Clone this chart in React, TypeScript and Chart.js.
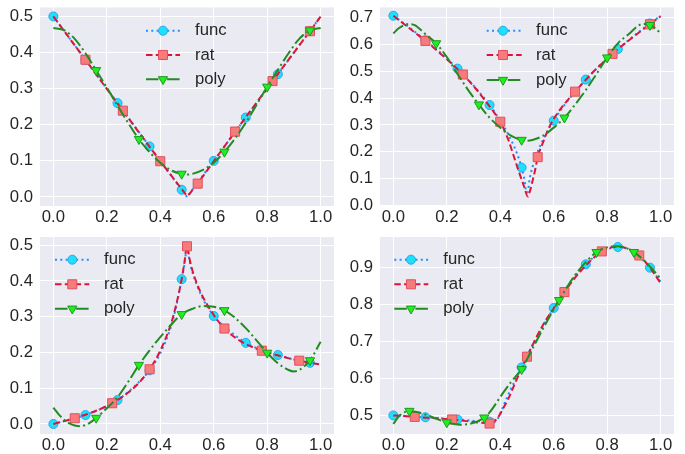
import React, { useEffect, useRef } from 'react';
import { Chart, registerables } from 'chart.js';

Chart.register(...registerables);

const FONT = '"Liberation Sans", Arial, "DejaVu Sans", sans-serif';
const FONT_SIZE = 16.7;
const TEXT = '#262626';
const PANEL_BG = '#EAEAF2';

const seriesNames = ['func', 'rat', 'poly'];
const xTicks = [0, 0.2, 0.4, 0.6, 0.8, 1.0];
const xMin = -0.05;
const xMax = 1.05;

// ---------- Panel A (top-left) ----------
const yTicksA = [0, 0.1, 0.2, 0.3, 0.4, 0.5];
const aFuncLineX = [0, 0.5, 1];
const aFuncLineY = [0.5, 0.0, 0.5];
const aFuncMarkX = [0, 0.12, 0.24, 0.36, 0.48, 0.6, 0.72, 0.84, 0.96];
const aFuncMarkY = [0.5, 0.38, 0.26, 0.14, 0.02, 0.1, 0.22, 0.34, 0.46];
const aRatLineX = [0, 0.12, 0.26, 0.4, 0.46, 0.48, 0.49, 0.5, 0.51, 0.52, 0.54, 0.6, 0.68, 0.82, 0.96, 1];
const aRatLineY = [0.5, 0.38, 0.239, 0.099, 0.041, 0.022, 0.012, 0.003, 0.009, 0.019, 0.037, 0.099, 0.181, 0.321, 0.459, 0.5];
const aRatMarkX = [0.12, 0.26, 0.4, 0.54, 0.68, 0.82, 0.96];
const aRatMarkY = [0.38, 0.239, 0.099, 0.037, 0.181, 0.321, 0.459];
const aPolyLineX = [0, 0.04, 0.08, 0.12, 0.16, 0.2, 0.24, 0.28, 0.32, 0.36, 0.4, 0.44, 0.48, 0.5, 0.52, 0.56, 0.6, 0.64, 0.68, 0.72, 0.76, 0.8, 0.84, 0.88, 0.92, 0.96, 1];
const aPolyLineY = [0.468, 0.462, 0.438, 0.398, 0.351, 0.303, 0.253, 0.205, 0.16, 0.124, 0.095, 0.074, 0.064, 0.062, 0.064, 0.075, 0.095, 0.125, 0.162, 0.206, 0.255, 0.305, 0.352, 0.398, 0.438, 0.461, 0.468];
const aPolyMarkX = [0.16, 0.32, 0.48, 0.64, 0.8, 0.96];
const aPolyMarkY = [0.351, 0.16, 0.064, 0.125, 0.305, 0.461];

// ---------- Panel B (top-right) ----------
const yTicksB = [0, 0.1, 0.2, 0.3, 0.4, 0.5, 0.6, 0.7];
const bFuncLineX = [0, 0.06, 0.12, 0.18, 0.24, 0.3, 0.36, 0.4, 0.44, 0.47, 0.49, 0.4975, 0.5025, 0.51, 0.53, 0.56, 0.6, 0.64, 0.7, 0.76, 0.82, 0.88, 0.94, 1];
const bFuncLineY = [0.707, 0.663, 0.616, 0.566, 0.51, 0.447, 0.374, 0.316, 0.245, 0.173, 0.1, 0.05, 0.05, 0.1, 0.173, 0.245, 0.316, 0.374, 0.447, 0.51, 0.566, 0.616, 0.663, 0.707];
const bFuncMarkX = [0, 0.12, 0.24, 0.36, 0.48, 0.6, 0.72, 0.84, 0.96];
const bFuncMarkY = [0.707, 0.616, 0.51, 0.374, 0.141, 0.316, 0.469, 0.583, 0.678];
const bRatLineX = [0, 0.06, 0.12, 0.2, 0.26, 0.3, 0.34, 0.37, 0.4, 0.43, 0.45, 0.47, 0.49, 0.503, 0.51, 0.52, 0.53, 0.54, 0.56, 0.58, 0.6, 0.64, 0.68, 0.75, 0.82, 0.9, 0.96, 1];
const bRatLineY = [0.707, 0.66, 0.613, 0.545, 0.488, 0.445, 0.395, 0.356, 0.312, 0.245, 0.185, 0.125, 0.068, 0.033, 0.05, 0.088, 0.13, 0.18, 0.235, 0.285, 0.322, 0.378, 0.424, 0.5, 0.565, 0.63, 0.675, 0.705];
const bRatMarkX = [0.12, 0.26, 0.4, 0.54, 0.68, 0.82, 0.96];
const bRatMarkY = [0.613, 0.488, 0.312, 0.18, 0.424, 0.565, 0.675];
const bPolyLineX = [0, 0.02, 0.04, 0.06, 0.08, 0.12, 0.16, 0.2, 0.24, 0.28, 0.32, 0.36, 0.4, 0.44, 0.48, 0.5, 0.52, 0.56, 0.6, 0.64, 0.68, 0.72, 0.76, 0.8, 0.84, 0.88, 0.92, 0.94, 0.96, 0.98, 1];
const bPolyLineY = [0.641, 0.66, 0.672, 0.676, 0.672, 0.638, 0.604, 0.553, 0.49, 0.43, 0.376, 0.327, 0.29, 0.26, 0.244, 0.241, 0.244, 0.26, 0.29, 0.327, 0.376, 0.43, 0.49, 0.551, 0.604, 0.638, 0.672, 0.676, 0.672, 0.66, 0.641];
const bPolyMarkX = [0.16, 0.32, 0.48, 0.64, 0.8, 0.96];
const bPolyMarkY = [0.604, 0.376, 0.244, 0.327, 0.551, 0.672];

// ---------- Panel C (bottom-left) ----------
const yTicksC = [0, 0.1, 0.2, 0.3, 0.4, 0.5];
const cFuncLineX = [0, 0.06, 0.12, 0.18, 0.24, 0.3, 0.36, 0.4, 0.44, 0.46, 0.48, 0.49, 0.5, 0.51, 0.52, 0.55, 0.6, 0.66, 0.72, 0.78, 0.84, 0.9, 0.96, 1];
const cFuncLineY = [0, 0.012, 0.025, 0.043, 0.067, 0.103, 0.15, 0.198, 0.272, 0.33, 0.405, 0.445, 0.49, 0.455, 0.425, 0.365, 0.302, 0.26, 0.227, 0.207, 0.193, 0.18, 0.171, 0.166];
const cFuncMarkX = [0, 0.12, 0.24, 0.36, 0.48, 0.6, 0.72, 0.84, 0.96];
const cFuncMarkY = [0, 0.025, 0.067, 0.15, 0.405, 0.302, 0.227, 0.193, 0.171];
const cRatLineX = [0, 0.04, 0.08, 0.12, 0.16, 0.22, 0.28, 0.32, 0.36, 0.4, 0.44, 0.46, 0.48, 0.49, 0.5, 0.51, 0.52, 0.55, 0.6, 0.64, 0.7, 0.78, 0.85, 0.92, 1];
const cRatLineY = [0, 0.008, 0.016, 0.026, 0.037, 0.058, 0.088, 0.115, 0.153, 0.205, 0.28, 0.335, 0.405, 0.45, 0.497, 0.46, 0.43, 0.37, 0.305, 0.267, 0.232, 0.205, 0.19, 0.177, 0.166];
const cRatMarkX = [0.08, 0.22, 0.36, 0.5, 0.64, 0.78, 0.92];
const cRatMarkY = [0.016, 0.058, 0.153, 0.497, 0.267, 0.205, 0.177];
const cPolyLineX = [0, 0.02, 0.04, 0.06, 0.08, 0.1, 0.12, 0.14, 0.16, 0.2, 0.24, 0.28, 0.32, 0.36, 0.4, 0.44, 0.48, 0.52, 0.56, 0.6, 0.64, 0.68, 0.72, 0.76, 0.8, 0.84, 0.88, 0.9, 0.92, 0.96, 1];
const cPolyLineY = [0.046, 0.027, 0.012, 0.002, -0.004, -0.006, -0.003, 0.005, 0.017, 0.044, 0.075, 0.118, 0.165, 0.206, 0.243, 0.277, 0.307, 0.322, 0.33, 0.328, 0.318, 0.297, 0.268, 0.234, 0.199, 0.17, 0.151, 0.147, 0.151, 0.178, 0.23];
const cPolyMarkX = [0.16, 0.32, 0.48, 0.64, 0.8, 0.96];
const cPolyMarkY = [0.017, 0.165, 0.307, 0.318, 0.199, 0.178];

// ---------- Panel D (bottom-right) ----------
const yTicksD = [0.5, 0.6, 0.7, 0.8, 0.9];
const dFuncLineX = [0, 0.12, 0.24, 0.36, 0.38, 0.4, 0.42, 0.44, 0.48, 0.52, 0.56, 0.6, 0.66, 0.72, 0.78, 0.84, 0.9, 0.96, 1];
const dFuncLineY = [0.5, 0.495, 0.489, 0.483, 0.483, 0.505, 0.54, 0.572, 0.63, 0.69, 0.742, 0.791, 0.858, 0.909, 0.942, 0.956, 0.942, 0.9, 0.862];
const dFuncMarkX = [0, 0.12, 0.24, 0.36, 0.48, 0.6, 0.72, 0.84, 0.96];
const dFuncMarkY = [0.5, 0.495, 0.489, 0.483, 0.63, 0.791, 0.909, 0.956, 0.9];
const dRatLineX = [0, 0.08, 0.22, 0.36, 0.37, 0.39, 0.41, 0.43, 0.46, 0.5, 0.56, 0.6, 0.64, 0.7, 0.78, 0.84, 0.92, 0.96, 1];
const dRatLineY = [0.5, 0.496, 0.489, 0.479, 0.481, 0.493, 0.518, 0.545, 0.595, 0.659, 0.745, 0.79, 0.834, 0.89, 0.944, 0.957, 0.933, 0.9, 0.858];
const dRatMarkX = [0.08, 0.22, 0.36, 0.5, 0.64, 0.78, 0.92];
const dRatMarkY = [0.496, 0.489, 0.478, 0.659, 0.834, 0.944, 0.933];
const dPolyLineX = [0, 0.02, 0.04, 0.06, 0.1, 0.14, 0.2, 0.25, 0.3, 0.34, 0.36, 0.38, 0.4, 0.44, 0.48, 0.52, 0.56, 0.62, 0.68, 0.72, 0.76, 0.8, 0.84, 0.9, 0.96, 1];
const dPolyLineY = [0.477, 0.497, 0.508, 0.512, 0.507, 0.497, 0.481, 0.475, 0.48, 0.494, 0.508, 0.528, 0.55, 0.59, 0.626, 0.68, 0.735, 0.812, 0.88, 0.915, 0.942, 0.955, 0.958, 0.942, 0.903, 0.87];
const dPolyMarkX = [0.06, 0.2, 0.34, 0.48, 0.62, 0.76, 0.9];
const dPolyMarkY = [0.512, 0.481, 0.494, 0.625, 0.812, 0.942, 0.942];

const styles = [
  { line: '#1E90FF', dash: [2, 3.3], fill: '#1FE0F8', edge: '#27A8F0', point: 'circle', radius: 4.5, rotation: 0 },
  { line: '#DC143C', dash: [6.5, 3.3], fill: '#F77B7B', edge: '#E0505E', point: 'rect', radius: 6.4, rotation: 0 },
  { line: '#228B22', dash: [12.5, 3.3, 2, 3.3], fill: '#1FEF1F', edge: '#1F9A1F', point: 'triangle', radius: 5.3, rotation: 180 },
];

type Series = { lx: number[]; ly: number[]; mx: number[]; my: number[]; smooth: boolean };

const panels = [
  {
    key: 'A', left: 0, top: 0, width: 342, height: 227,
    area: { left: 40, right: 334, top: 7, bottom: 206 },
    yMin: -0.025, yMax: 0.525, yTicks: yTicksA,
    series: [
      { lx: aFuncLineX, ly: aFuncLineY, mx: aFuncMarkX, my: aFuncMarkY, smooth: false },
      { lx: aRatLineX, ly: aRatLineY, mx: aRatMarkX, my: aRatMarkY, smooth: false },
      { lx: aPolyLineX, ly: aPolyLineY, mx: aPolyMarkX, my: aPolyMarkY, smooth: true },
    ] as Series[],
    legend: { x0: 146, x1: 180, xm: 163, xt: 195, rows: [30.7, 55, 79.3] },
  },
  {
    key: 'B', left: 342, top: 0, width: 343, height: 227,
    area: { left: 38, right: 332, top: 7, bottom: 206 },
    yMin: -0.002, yMax: 0.738, yTicks: yTicksB,
    series: [
      { lx: bFuncLineX, ly: bFuncLineY, mx: bFuncMarkX, my: bFuncMarkY, smooth: true },
      { lx: bRatLineX, ly: bRatLineY, mx: bRatMarkX, my: bRatMarkY, smooth: true },
      { lx: bPolyLineX, ly: bPolyLineY, mx: bPolyMarkX, my: bPolyMarkY, smooth: true },
    ] as Series[],
    legend: { x0: 144.7, x1: 179.7, xm: 161, xt: 194, rows: [30.7, 55, 80] },
  },
  {
    key: 'C', left: 0, top: 227, width: 342, height: 227,
    area: { left: 40, right: 334, top: 10, bottom: 207 },
    yMin: -0.028, yMax: 0.523, yTicks: yTicksC,
    series: [
      { lx: cFuncLineX, ly: cFuncLineY, mx: cFuncMarkX, my: cFuncMarkY, smooth: true },
      { lx: cRatLineX, ly: cRatLineY, mx: cRatMarkX, my: cRatMarkY, smooth: true },
      { lx: cPolyLineX, ly: cPolyLineY, mx: cPolyMarkX, my: cPolyMarkY, smooth: true },
    ] as Series[],
    legend: { x0: 55, x1: 89.3, xm: 72.3, xt: 104, rows: [32.7, 57.3, 81.7] },
  },
  {
    key: 'D', left: 342, top: 227, width: 343, height: 227,
    area: { left: 38, right: 332, top: 10, bottom: 207 },
    yMin: 0.4497, yMax: 0.983, yTicks: yTicksD,
    series: [
      { lx: dFuncLineX, ly: dFuncLineY, mx: dFuncMarkX, my: dFuncMarkY, smooth: true },
      { lx: dRatLineX, ly: dRatLineY, mx: dRatMarkX, my: dRatMarkY, smooth: true },
      { lx: dPolyLineX, ly: dPolyLineY, mx: dPolyMarkX, my: dPolyMarkY, smooth: true },
    ] as Series[],
    legend: { x0: 52.3, x1: 86.3, xm: 69, xt: 101.3, rows: [32.7, 57.3, 81.7] },
  },
];

function drawMarker(ctx: CanvasRenderingContext2D, st: any, x: number, y: number) {
  ctx.save();
  ctx.setLineDash([]);
  ctx.fillStyle = st.fill;
  ctx.strokeStyle = st.edge;
  ctx.lineWidth = 1;
  ctx.beginPath();
  if (st.point === 'circle') {
    ctx.arc(x, y, st.radius, 0, Math.PI * 2);
  } else if (st.point === 'rect') {
    const s = st.radius * Math.SQRT1_2;
    ctx.rect(x - s, y - s, 2 * s, 2 * s);
  } else {
    const r = st.radius;
    const h = r * Math.sin(Math.PI / 3);
    ctx.moveTo(x, y + r);
    ctx.lineTo(x - h, y - r / 2);
    ctx.lineTo(x + h, y - r / 2);
    ctx.closePath();
  }
  ctx.fill();
  ctx.stroke();
  ctx.restore();
}

function buildConfig(p: any): any {
  const datasets: any[] = [];
  p.series.forEach((s: Series, i: number) => {
    const st = styles[i];
    datasets.push({
      label: seriesNames[i],
      data: s.lx.map((x, j) => ({ x, y: s.ly[j] })),
      showLine: true,
      borderColor: st.line,
      backgroundColor: st.line,
      borderWidth: 2,
      borderDash: st.dash,
      pointRadius: 0,
      pointHoverRadius: 0,
      tension: s.smooth ? 0.4 : 0,
      cubicInterpolationMode: s.smooth ? 'monotone' : 'default',
      fill: false,
      order: 10 - 2 * i,
    });
    datasets.push({
      label: seriesNames[i] + ' markers',
      data: s.mx.map((x, j) => ({ x, y: s.my[j] })),
      showLine: false,
      pointStyle: st.point,
      pointRadius: st.radius,
      pointHoverRadius: st.radius,
      pointRotation: st.rotation,
      pointBackgroundColor: st.fill,
      pointBorderColor: st.edge,
      pointBorderWidth: 1,
      order: 9 - 2 * i,
    });
  });

  const bgPlugin = {
    id: 'panelBg',
    beforeDraw(chart: any) {
      const { ctx, chartArea: a } = chart;
      ctx.save();
      ctx.fillStyle = PANEL_BG;
      ctx.fillRect(a.left, a.top, a.right - a.left, a.bottom - a.top);
      ctx.restore();
    },
  };

  const lg = p.legend;
  const legendPlugin = {
    id: 'panelLegend',
    afterDraw(chart: any) {
      const ctx: CanvasRenderingContext2D = chart.ctx;
      ctx.save();
      seriesNames.forEach((name, i) => {
        const st = styles[i];
        const y = lg.rows[i];
        ctx.beginPath();
        ctx.setLineDash(st.dash);
        ctx.strokeStyle = st.line;
        ctx.lineWidth = 2;
        ctx.moveTo(lg.x0, y);
        ctx.lineTo(lg.x1, y);
        ctx.stroke();
        ctx.setLineDash([]);
        drawMarker(ctx, st, lg.xm, y);
        ctx.fillStyle = TEXT;
        ctx.font = `${FONT_SIZE}px ${FONT}`;
        ctx.textBaseline = 'middle';
        ctx.textAlign = 'left';
        ctx.fillText(name, lg.xt, y);
      });
      ctx.restore();
    },
  };

  const a = p.area;
  return {
    type: 'scatter',
    data: { datasets },
    plugins: [bgPlugin, legendPlugin],
    options: {
      animation: false,
      responsive: false,
      devicePixelRatio: 1,
      events: [],
      layout: { padding: { left: 0, top: a.top, right: p.width - a.right, bottom: 0 } },
      plugins: { legend: { display: false }, tooltip: { enabled: false } },
      scales: {
        x: {
          type: 'linear',
          min: xMin,
          max: xMax,
          border: { display: false },
          grid: { color: '#FFFFFF', lineWidth: 1, drawTicks: false },
          ticks: {
            autoSkip: false,
            maxRotation: 0,
            padding: 1,
            color: TEXT,
            font: { family: FONT, size: FONT_SIZE },
            callback: (v: any) => Number(v).toFixed(1),
          },
          afterBuildTicks: (s: any) => { s.ticks = xTicks.map((v) => ({ value: v })); },
          afterFit: (s: any) => {
            s.height = p.height - a.bottom;
            s.paddingLeft = 0; s.paddingRight = 0; s.paddingTop = 0; s.paddingBottom = 0;
          },
        },
        y: {
          type: 'linear',
          min: p.yMin,
          max: p.yMax,
          border: { display: false },
          grid: { color: '#FFFFFF', lineWidth: 1, drawTicks: false },
          ticks: {
            autoSkip: false,
            padding: 7,
            color: TEXT,
            font: { family: FONT, size: FONT_SIZE },
            callback: (v: any) => Number(v).toFixed(1),
          },
          afterBuildTicks: (s: any) => { s.ticks = p.yTicks.map((v: number) => ({ value: v })); },
          afterFit: (s: any) => {
            s.width = a.left;
            s.paddingLeft = 0; s.paddingRight = 0; s.paddingTop = 0; s.paddingBottom = 0;
          },
        },
      },
    },
  };
}

function Panel({ p }: { p: any }) {
  const ref = useRef<HTMLCanvasElement>(null);
  useEffect(() => {
    const chart = new Chart(ref.current as HTMLCanvasElement, buildConfig(p));
    return () => chart.destroy();
  }, []);
  return (
    <canvas
      ref={ref}
      width={p.width}
      height={p.height}
      style={{ position: 'absolute', left: p.left, top: p.top, width: p.width, height: p.height }}
    />
  );
}

export default function App() {
  return (
    <div style={{ position: 'absolute', left: 0, top: 0, width: 685, height: 454, background: '#FFFFFF', overflow: 'hidden' }}>
      {panels.map((p) => (
        <Panel key={p.key} p={p} />
      ))}
    </div>
  );
}
